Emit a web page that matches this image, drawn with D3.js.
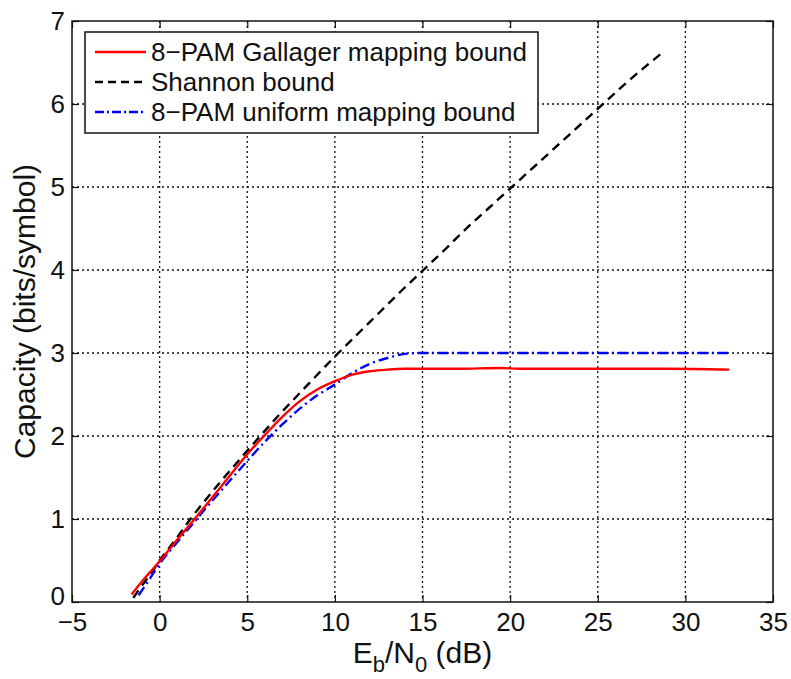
<!DOCTYPE html>
<html>
<head>
<meta charset="utf-8">
<script src="https://cdn.jsdelivr.net/npm/d3@7"></script>
<style>
  body { margin: 0; background: #fff; }
  svg { display: block; }
  text { font-family: "Liberation Sans", Arial, Helvetica, sans-serif; fill: #111; }
</style>
</head>
<body>
<svg id="chart" width="791" height="679"></svg>
<script>
// Axis ticks
const xTicks = [-5, 0, 5, 10, 15, 20, 25, 30, 35];
const yTicks = [0, 1, 2, 3, 4, 5, 6, 7];

// Shannon bound (Eb/N0 in dB, capacity in bits/symbol)
const shannonX = [-1.5, -1.0, -0.5, 0.0, 0.9, 1.76, 2.7, 3.68, 4.7, 5.74, 6.8, 7.92, 9.05, 10.2, 11.4, 12.6, 13.8, 15.05, 16.3, 17.5, 18.8, 20.1, 21.4, 22.7, 24.0, 25.3, 26.6, 28.0, 28.7];
const shannonY = [0.05, 0.2, 0.34, 0.5, 0.75, 1.0, 1.25, 1.5, 1.75, 2.0, 2.25, 2.5, 2.75, 3.0, 3.25, 3.5, 3.75, 4.0, 4.25, 4.5, 4.75, 5.0, 5.25, 5.5, 5.75, 6.0, 6.25, 6.5, 6.62];

// 8-PAM with Gallager mapping
const gallagerX = [-1.6, -1.0, -0.5, 0, 1, 2, 3, 4, 5, 6, 7, 8, 9, 10, 11, 12, 13, 14, 15, 17, 19.5, 20.5, 23, 26, 29, 32.5];
const gallagerY = [0.09, 0.25, 0.37, 0.49, 0.75, 1.0, 1.26, 1.52, 1.78, 2.01, 2.23, 2.42, 2.56, 2.66, 2.74, 2.78, 2.8, 2.81, 2.81, 2.81, 2.82, 2.81, 2.81, 2.81, 2.81, 2.8];

// 8-PAM with uniform mapping
const uniformX = [-1.2, -0.5, 0, 1, 2, 3, 4, 5, 6, 7, 8, 9, 10, 11, 12, 13, 14, 15, 17, 20, 23, 26, 29, 32.5];
const uniformY = [0.08, 0.3, 0.46, 0.72, 0.97, 1.22, 1.46, 1.7, 1.93, 2.14, 2.33, 2.49, 2.62, 2.76, 2.87, 2.94, 2.99, 3.0, 3.0, 3.0, 3.0, 3.0, 3.0, 3.0];

const seriesNames = ["8\u2212PAM Gallager mapping bound", "Shannon bound", "8\u2212PAM uniform mapping bound"];

const margin = { left: 72, top: 21, right: 18, bottom: 77 };
const W = 791, H = 679;
const w = W - margin.left - margin.right;
const h = H - margin.top - margin.bottom;

const svg = d3.select("#chart");
const g = svg.append("g").attr("transform", `translate(${margin.left},${margin.top})`);

const x = d3.scaleLinear().domain([-5, 35]).range([0, w]);
const y = d3.scaleLinear().domain([0, 7]).range([h, 0]);

// Dotted grid
const grid = g.append("g").attr("class", "grid");
grid.selectAll("line.vx").data(xTicks.slice(1, -1)).join("line")
  .attr("x1", d => x(d)).attr("x2", d => x(d)).attr("y1", 0).attr("y2", h);
grid.selectAll("line.hy").data(yTicks.slice(1, -1)).join("line")
  .attr("y1", d => y(d)).attr("y2", d => y(d)).attr("x1", 0).attr("x2", w);
grid.selectAll("line")
  .attr("stroke", "#111").attr("stroke-width", 1.3).attr("stroke-dasharray", "2,3");

// Curves
const line = d3.line().x(d => x(d[0])).y(d => y(d[1])).curve(d3.curveMonotoneX);
const zip = (a, b) => a.map((v, i) => [v, b[i]]);

const series = [
  { name: seriesNames[1], data: zip(shannonX, shannonY), color: "#000", dash: "9,6" },
  { name: seriesNames[2], data: zip(uniformX, uniformY), color: "#0000ff", dash: "10,4,2,4" },
  { name: seriesNames[0], data: zip(gallagerX, gallagerY), color: "#ff0000", dash: null }
];

g.selectAll("path.curve").data(series).join("path")
  .attr("class", "curve")
  .attr("d", d => line(d.data))
  .attr("fill", "none")
  .attr("stroke", d => d.color)
  .attr("stroke-width", 2.4)
  .attr("stroke-dasharray", d => d.dash);

// Axes with inward ticks on all four sides
const tickLen = 7;
const axisStyle = sel => {
  sel.select(".domain").remove();
  sel.selectAll(".tick line").attr("stroke", "#111").attr("stroke-width", 1.2);
  sel.selectAll(".tick text").attr("font-size", 26).attr("fill", "#111");
};

g.append("g").attr("transform", `translate(0,${h})`)
  .call(d3.axisBottom(x).tickValues(xTicks).tickSize(-tickLen).tickPadding(11).tickFormat(d3.format("d")))
  .call(axisStyle);
g.append("g")
  .call(d3.axisTop(x).tickValues(xTicks).tickSize(-tickLen).tickFormat(""))
  .call(axisStyle);
const yAxis = g.append("g")
  .call(d3.axisLeft(y).tickValues(yTicks).tickSize(-tickLen).tickPadding(7).tickFormat(d3.format("d")))
  .call(axisStyle);
// the zero label sits a little high so it clears the x-axis labels
yAxis.selectAll(".tick text").filter(d => d === 0).attr("dy", "0.1em");

// Plot frame
g.append("rect").attr("x", 0).attr("y", 0).attr("width", w).attr("height", h)
  .attr("fill", "none").attr("stroke", "#111").attr("stroke-width", 1.5);

g.append("g").attr("transform", `translate(${w},0)`)
  .call(d3.axisRight(y).tickValues(yTicks).tickSize(-tickLen).tickFormat(""))
  .call(axisStyle);

// Legend
const legend = g.append("g").attr("transform", `translate(${85 - margin.left},${32 - margin.top})`);
legend.append("rect").attr("width", 453).attr("height", 101)
  .attr("fill", "#fff").attr("stroke", "#111").attr("stroke-width", 1.5);
const legendOrder = [series[2], series[0], series[1]];
const rows = legend.selectAll("g.row").data(legendOrder).join("g")
  .attr("class", "row")
  .attr("transform", (d, i) => `translate(0,${20 + i * 30})`);
rows.append("line").attr("x1", 10).attr("x2", 61).attr("y1", 0).attr("y2", 0)
  .attr("stroke", d => d.color).attr("stroke-width", 2.4)
  .attr("stroke-dasharray", d => d.dash === "9,6" ? "8,5" : d.dash ? "9,3,2,3" : null);
rows.append("text").attr("x", 66).attr("y", 0).attr("dy", "0.36em")
  .attr("font-size", 26).text(d => d.name);

// Axis titles
const xl = svg.append("text")
  .attr("x", margin.left + w / 2).attr("y", 663)
  .attr("text-anchor", "middle").attr("font-size", 30);
xl.append("tspan").text("E");
xl.append("tspan").attr("font-size", 22).attr("dy", 9).text("b");
xl.append("tspan").attr("dy", -9).text("/N");
xl.append("tspan").attr("font-size", 22).attr("dy", 9).text("0");
xl.append("tspan").attr("dy", -9).text(" (dB)");

svg.append("text")
  .attr("transform", `translate(35,${margin.top + h / 2}) rotate(-90)`)
  .attr("text-anchor", "middle").attr("font-size", 30)
  .text("Capacity (bits/symbol)");
</script>
</body>
</html>
